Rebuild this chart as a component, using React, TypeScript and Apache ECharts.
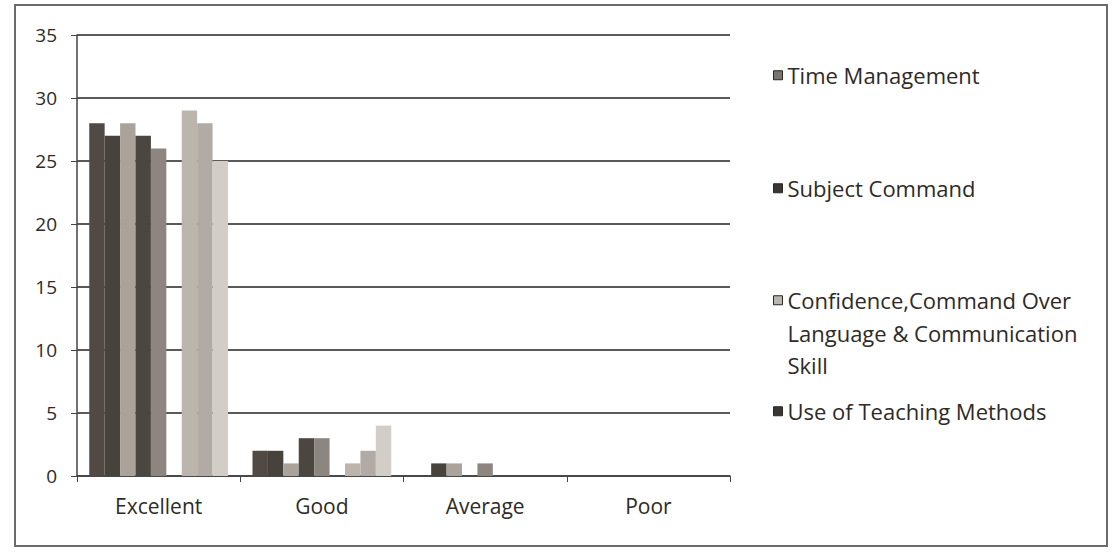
import React, { useEffect, useRef } from "react";
import * as echarts from "echarts";

const categories = ["Excellent", "Good", "Average", "Poor"];
const seriesNames = [
  "Time Management",
  "Subject Command",
  "Confidence,Command Over\nLanguage & Communication\nSkill",
  "Use of Teaching Methods",
  "Series 5",
  "Series 6",
  "Series 7",
  "Series 8",
  "Series 9",
];
const s1 = [28, 2, 0, 0];
const s2 = [27, 2, 1, 0];
const s3 = [28, 1, 1, 0];
const s4 = [27, 3, 0, 0];
const s5 = [26, 3, 1, 0];
const s6 = [0, 0, 0, 0];
const s7 = [29, 1, 0, 0];
const s8 = [28, 2, 0, 0];
const s9 = [25, 4, 0, 0];
const seriesValues = [s1, s2, s3, s4, s5, s6, s7, s8, s9];
const seriesColors = ["#514a44", "#48423c", "#aaa39c", "#4c4640", "#8d8680", "#777777", "#bcb5ae", "#b2aba5", "#d3cdc7"];
const legendIconColors = ["#7a7570", "#3a3633", "#b8b4b0", "#3a3633"];
const legendTops = [54, 167, 279, 390];
const yTicks = { min: 0, max: 35, interval: 5 };

export default function App() {
  const ref = useRef<HTMLDivElement>(null);
  useEffect(() => {
    if (!ref.current) return;
    const chart = echarts.init(ref.current, null, { renderer: "svg" });
    const font = "'Open Sans', sans-serif";
    const legends = [0, 1, 2, 3].map((i) => {
      const isMulti = i === 2;
      return {
        data: [seriesNames[i]],
        orient: "vertical",
        left: 768,
        top: legendTops[i],
        itemWidth: 9,
        itemHeight: isMulti ? 74 : 9,
        icon: isMulti ? "path://M0,0L9,0L9,9L0,9Z M9,74" : "rect",
        itemStyle: { color: legendIconColors[i], borderColor: "#2a2622", borderWidth: 1 },
        textStyle: { fontFamily: font, fontSize: 22, color: "#2e2a27", lineHeight: 32.5 },
        selectedMode: false,
      };
    });
    chart.setOption({
      animation: false,
      backgroundColor: "#ffffff",
      graphic: [
        {
          type: "rect",
          shape: { x: 15, y: 5, width: 1092, height: 541 },
          style: { fill: "none", stroke: "#6b6b6b", lineWidth: 2 },
          silent: true,
        },
      ],
      legend: legends,
      grid: { left: 77, right: 382, top: 35, bottom: 76, containLabel: false },
      xAxis: {
        type: "category",
        data: categories,
        axisLine: { lineStyle: { color: "#444", width: 1.5 } },
        axisTick: { show: true, length: 6, lineStyle: { color: "#444" } },
        axisLabel: { fontFamily: font, fontSize: 21, color: "#2e2a27", margin: 19 },
      },
      yAxis: {
        type: "value",
        min: yTicks.min,
        max: yTicks.max,
        interval: yTicks.interval,
        axisLine: { show: true, lineStyle: { color: "#444", width: 1.5 } },
        axisTick: { show: true, length: 6, lineStyle: { color: "#444" } },
        axisLabel: { fontFamily: font, fontSize: 19, color: "#2e2a27", margin: 20 },
        splitLine: { lineStyle: { color: "#5a5a5a", width: 2 } },
      },
      series: seriesValues.map((vals, i) => ({
        name: seriesNames[i],
        type: "bar",
        data: vals,
        barGap: "0%",
        barCategoryGap: "15%",
        itemStyle: { color: seriesColors[i] },
      })),
    });
    return () => chart.dispose();
  }, []);
  return (
    <div
      ref={ref}
      style={{ position: "absolute", left: 0, top: 0, width: 1112, height: 552 }}
    />
  );
}
